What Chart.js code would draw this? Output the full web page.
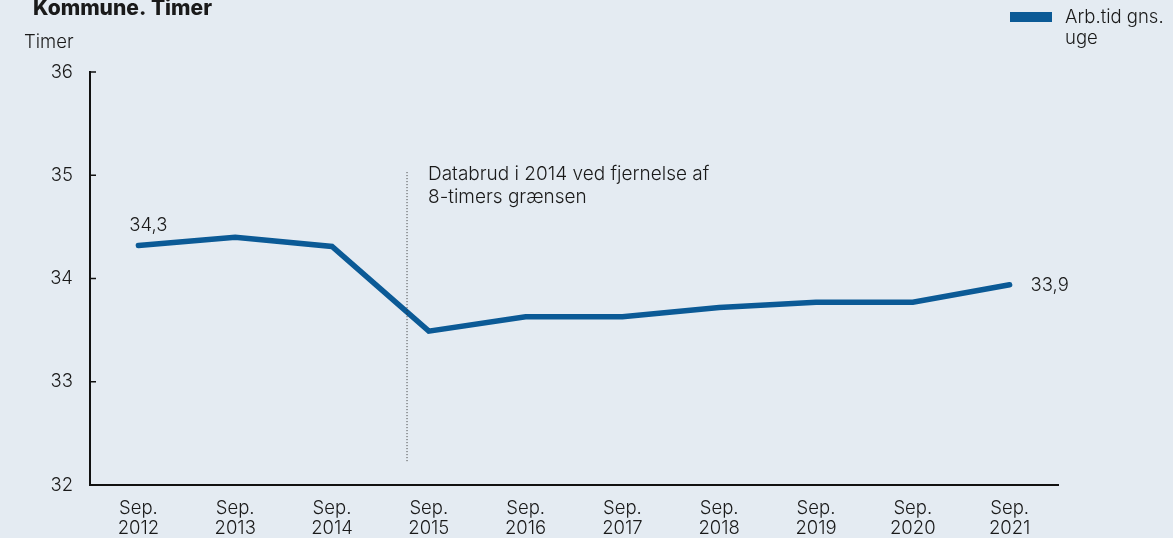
<!DOCTYPE html>
<html>
<head>
<meta charset="utf-8">
<script src="https://cdn.jsdelivr.net/npm/chart.js@4"></script>
<style>
  html, body { margin: 0; padding: 0; background: #e4ebf2; }
  #wrap { width: 1173px; height: 538px; position: relative; }
</style>
</head>
<body>
<div id="wrap"><canvas id="arbChart"></canvas></div>
<script>
const labels = [['Sep.', '2012'], ['Sep.', '2013'], ['Sep.', '2014'], ['Sep.', '2015'], ['Sep.', '2016'],
    ['Sep.', '2017'], ['Sep.', '2018'], ['Sep.', '2019'], ['Sep.', '2020'], ['Sep.', '2021']];
const timer = [34.32, 34.40, 34.31, 33.49, 33.63, 33.63, 33.72, 33.77, 33.77, 33.94];
const yTicks = [32, 33, 34, 35, 36];
const seriesName = ['Arb.tid gns.', 'uge'];
const noteLines = ['Databrud i 2014 ved fjernelse af', '8-timers grænsen'];
const breakAt = 2.775; // between Sep. 2014 and Sep. 2015
const breakRange = [32.22, 35.03];

const blue = '#0b5a96';
const font = "'Inter', 'Noto Sans', sans-serif";
const fs = 18.5;

const extras = {
    id: 'extras',
    afterDraw(chart) {
        const ctx = chart.ctx;
        const x = chart.scales.x, y = chart.scales.y;
        ctx.save();
        // ticks inside y axis
        ctx.strokeStyle = '#111';
        ctx.lineWidth = 1.5;
        yTicks.forEach(v => {
            const py = y.getPixelForValue(v);
            ctx.beginPath();
            ctx.moveTo(chart.chartArea.left, py);
            ctx.lineTo(chart.chartArea.left + 6, py);
            ctx.stroke();
        });
        // data break line
        const bx = x.getPixelForValue(breakAt);
        ctx.strokeStyle = '#333';
        ctx.lineWidth = 1;
        ctx.setLineDash([1, 2]);
        ctx.beginPath();
        ctx.moveTo(bx, y.getPixelForValue(breakRange[1]));
        ctx.lineTo(bx, y.getPixelForValue(breakRange[0]));
        ctx.stroke();
        ctx.setLineDash([]);
        ctx.fillStyle = '#1a1a1a';
        ctx.font = '300 19px ' + font;
        ctx.textBaseline = 'middle';
        ctx.textAlign = 'left';
        noteLines.forEach((t, i) => ctx.fillText(t, bx + 21, y.getPixelForValue(breakRange[1]) + 2 + i * 23));
        ctx.font = '300 ' + fs + 'px ' + font;
        // value labels
        const first = chart.getDatasetMeta(0).data[0];
        const last = chart.getDatasetMeta(0).data[timer.length - 1];
        ctx.textAlign = 'center';
        ctx.fillText(timer[0].toFixed(1).replace('.', ','), first.x + 10, first.y - 20);
        ctx.textAlign = 'left';
        ctx.fillText(timer[timer.length - 1].toFixed(1).replace('.', ','), last.x + 21, last.y + 1);
        // title and unit
        ctx.font = '800 21px ' + font;
        ctx.textBaseline = 'alphabetic';
        ctx.fillText('Kommune. Timer', 33, 15);
        ctx.textBaseline = 'middle';
        ctx.font = '300 ' + fs + 'px ' + font;
        ctx.fillText('Timer', 24, 42);
        // legend
        ctx.fillStyle = blue;
        ctx.fillRect(1010, 12, 42, 10);
        ctx.fillStyle = '#1a1a1a';
        seriesName.forEach((t, i) => ctx.fillText(t, 1065, 17 + i * 21));
        ctx.restore();
    }
};

new Chart(document.getElementById('arbChart'), {
    type: 'line',
    data: {
        labels: labels,
        datasets: [{
            label: seriesName.join(' '),
            data: timer,
            borderColor: blue,
            borderWidth: 5.5,
            pointRadius: 0,
            borderCapStyle: 'round',
            borderJoinStyle: 'miter',
            tension: 0
        }]
    },
    options: {
        responsive: true,
        maintainAspectRatio: false,
        animation: false,
        layout: { padding: { left: 0, right: 115, top: 72, bottom: 0 } },
        scales: {
            x: {
                offset: true,
                grid: { display: false, drawTicks: false },
                border: { color: '#111', width: 2 },
                ticks: { color: '#1a1a1a', font: { family: font, size: fs, weight: '300', lineHeight: '20px' }, padding: 13, maxRotation: 0, autoSkip: false },
                afterFit: s => { s.height = 53; }
            },
            y: {
                min: 32,
                max: 36,
                grid: { display: false, drawTicks: false },
                border: { color: '#111', width: 2 },
                ticks: { stepSize: 1, color: '#1a1a1a', font: { family: font, size: fs, weight: '300' }, padding: 17 },
                afterFit: s => { s.width = 90; }
            }
        },
        plugins: {
            legend: { display: false },
            tooltip: { enabled: false }
        }
    },
    plugins: [extras]
});
</script>
</body>
</html>
